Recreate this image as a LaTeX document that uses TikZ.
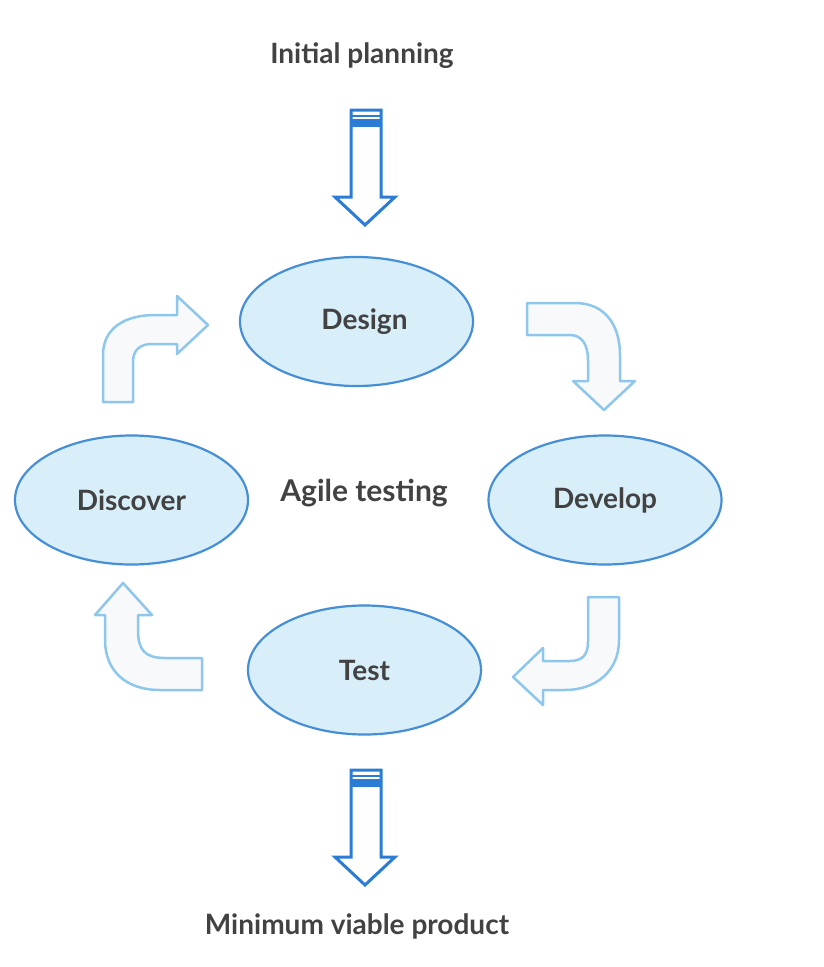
\documentclass[tikz,border=0pt]{standalone}
\usepackage{fontspec}
\setmainfont{Lato}
\usetikzlibrary{shapes.geometric}

\definecolor{rim}{RGB}{70,142,214}
\definecolor{cellfill}{RGB}{216,239,250}
\definecolor{bluedark}{RGB}{43,124,212}
\definecolor{bluelight}{RGB}{142,198,236}
\definecolor{arrowfill}{RGB}{247,249,251}
\definecolor{txt}{RGB}{66,66,66}

\begin{document}
\begin{tikzpicture}[x=1pt,y=-1pt,
  phase/.style={ellipse,draw=rim,line width=2.2pt,fill=cellfill,minimum width=233pt,
    minimum height=129pt,inner sep=0pt,text=txt,font=\fontsize{28}{32}\selectfont\bfseries},
  caption/.style={text=txt,font=\fontsize{28}{32}\selectfont\bfseries},
  turn/.style={draw=bluelight,line width=2.5pt,fill=arrowfill,line join=round},
  feed/.style={draw=bluedark,line width=3pt,fill=white,line join=miter}]
\useasboundingbox (0,0) rectangle (823,967);

\node[caption] (plan) at (362,56) {Initial planning};
\node[caption,font=\fontsize{30}{34}\selectfont\bfseries] (agile) at (364,493) {Agile testing};
\node[caption] (mvp) at (357,926) {Minimum viable product};

\node[phase] (design) at (356.5,321.5) {\hspace*{16pt}Design};
\node[phase] (discover) at (131.5,500) {Discover};
\node[phase] (develop) at (605,500) {Develop};
\node[phase] (test) at (364.5,670) {Test};

% in and out arrows
\foreach \y in {0,660}
{
\draw[feed,shift={(0,\y)}] (351,110) -- (381,110) -- (381,197) -- (395,197) -- (365,225)
  -- (335,197) -- (351,197) -- cycle;
\draw[bluedark,line width=2pt,shift={(0,\y)}] (351,116) -- (381,116);
\fill[bluedark,shift={(0,\y)}] (351,119) rectangle (381,127);
}

% the cycle
\draw[turn] (103,402) -- (103,355) .. controls (103,328) and (125,315) .. (155,315)
  -- (177,315) -- (177,296) -- (208,325) -- (177,354) -- (177,344) -- (152,344)
  .. controls (140,344) and (133,350) .. (133,362) -- (133,402) -- cycle;
\draw[turn] (527,303) -- (575,303) .. controls (605,303) and (620,325) .. (620,355)
  -- (620,381) -- (635,381) -- (604,410) -- (573,381) -- (588,381) -- (588,360)
  .. controls (588,345) and (582,335) .. (570,335) -- (527,335) -- cycle;
\draw[turn] (588,597) -- (619,597) -- (619,640) .. controls (619,672) and (595,690) .. (565,690)
  -- (543,690) -- (543,705) -- (513,677) -- (543,648) -- (543,661) -- (570,661)
  .. controls (582,661) and (588,655) .. (588,642) -- cycle;
\draw[turn] (202,658) -- (165,658) .. controls (145,658) and (138,650) .. (138,630)
  -- (138,615) -- (152,615) -- (123,583) -- (95,615) -- (105,615) -- (105,640)
  .. controls (105,670) and (125,690) .. (160,690) -- (202,690) -- cycle;
\end{tikzpicture}
\end{document}
